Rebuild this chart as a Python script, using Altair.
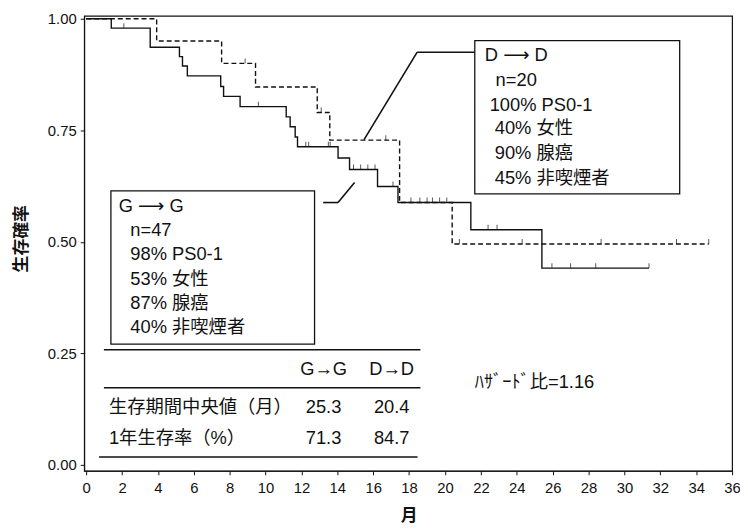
import altair as alt
import pandas as pd

# ---- Kaplan-Meier curves ----
g_time = [0, 1.4, 3.57, 5.2, 5.37, 5.64, 7.5, 7.66, 8.58, 11.15, 11.37, 11.65, 11.78,
          14.04, 14.68, 16.24, 17.38, 21.44, 25.4, 31.37]
g_surv = [1.0, 0.979, 0.936, 0.915, 0.894, 0.872, 0.848, 0.826, 0.803, 0.780, 0.758, 0.735, 0.713,
          0.688, 0.662, 0.624, 0.588, 0.527, 0.441, 0.441]

d_time = [0, 3.93, 7.55, 9.44, 12.88, 13.58, 17.47, 20.4, 34.7]
d_surv = [1.0, 0.95, 0.90, 0.847, 0.79, 0.728, 0.588, 0.495, 0.495]

# censored observations
g_cens_time = [2.1, 9.6, 12.24, 12.4, 13.5, 13.6, 14.9, 15.3, 15.7, 16.1, 17.1, 22.4, 22.9,
               25.96, 27.0, 28.4, 31.37]
g_cens_surv = [0.979, 0.803, 0.713, 0.713, 0.713, 0.713, 0.662, 0.662, 0.662, 0.662, 0.624,
               0.527, 0.527, 0.441, 0.441, 0.441, 0.441]
d_cens_time = [8.86, 13.1, 16.7, 18.1, 18.6, 19.0, 19.3, 19.7, 20.1, 20.8, 24.3, 28.7, 32.9, 34.7]
d_cens_surv = [0.90, 0.79, 0.728, 0.588, 0.588, 0.588, 0.588, 0.588, 0.588, 0.495, 0.495,
               0.495, 0.495, 0.495]

x_ticks = list(range(0, 37, 2))
y_ticks = [0, 0.25, 0.5, 0.75, 1.0]

# ---- annotation text ----
dd_lines = ["D ⟶ D", "n=20", "100% PS0-1", "40% 女性", "90% 腺癌", "45% 非喫煙者"]
dd_x = [22.22, 22.82, 22.49, 22.77, 22.77, 22.77]
dd_y = [0.918, 0.8625, 0.807, 0.754, 0.698, 0.643]
gg_lines = ["G ⟶ G", "n=47", "98% PS0-1", "53% 女性", "87% 腺癌", "40% 非喫煙者"]
gg_x = [1.82, 2.46, 2.46, 2.46, 2.46, 2.46]
gg_y = [0.581, 0.5255, 0.472, 0.417, 0.3636, 0.308]

table_left = ["生存期間中央値（月）", "1年生存率（%）"]
table_left_y = [0.1286, 0.0599]
table_head = ["G→G", "D→D"]
table_g = ["25.3", "71.3"]
table_d = ["20.4", "84.7"]
hazard_text = "ﾊｻﾞｰﾄﾞ比=1.16"

FONT = "Liberation Sans, DejaVu Sans, Noto Sans CJK JP"

xs = alt.Scale(domain=[-0.11, 36], nice=False, zero=False)
ys = alt.Scale(domain=[-0.0133, 1.0067], nice=False, zero=False)

x_axis = alt.Axis(values=x_ticks, format="d", title="月", titleX=328, titleY=45,
                  titleBaseline="middle", labelOverlap=False, labelFlush=False,
                  tickCount=19, labelSeparation=0)
y_axis = alt.Axis(values=y_ticks, format=".2f", title="生存確率", titleX=-63, titleY=225,
                  titleBaseline="middle", titleAngle=-90, labelOverlap=False)


def X(field):
    return alt.X(field, type="quantitative", scale=xs, axis=x_axis)


def Y(field):
    return alt.Y(field, type="quantitative", scale=ys, axis=y_axis)


curves = pd.DataFrame(
    {"t": g_time + d_time, "s": g_surv + d_surv,
     "grp": ["G→G"] * len(g_time) + ["D→D"] * len(d_time)}
)
cens = pd.DataFrame(
    {"t": g_cens_time + d_cens_time, "s": g_cens_surv + d_cens_surv}
)

g_line = alt.Chart(curves).transform_filter(alt.datum.grp == "G→G").mark_line(
    interpolate="step-after", color="#111", strokeWidth=1.4
).encode(x=X("t"), y=Y("s"))

d_line = alt.Chart(curves).transform_filter(alt.datum.grp == "D→D").mark_line(
    interpolate="step-after", color="#111", strokeWidth=1.4, strokeDash=[5, 3]
).encode(x=X("t"), y=Y("s"))

ticks = alt.Chart(cens).mark_tick(
    orient="vertical", size=5, thickness=1, color="#111", yOffset=-2.5
).encode(x=X("t"), y=Y("s"))

# boxes
boxes = pd.DataFrame({"x": [21.66, 1.38], "x2": [33.08, 12.73],
                      "y": [0.951, 0.614], "y2": [0.6075, 0.2705]})
box_layer = alt.Chart(boxes).mark_rect(fill="white", stroke="#111", strokeWidth=1.3).encode(
    x=X("x"), x2="x2", y=Y("y"), y2="y2")

# callout & table rules
rules = pd.DataFrame({
    "x": [21.66, 18.45, 13.21, 14.04, 0.99, 0.99, 0.72],
    "x2": [18.45, 15.49, 14.04, 14.96, 18.63, 18.63, 18.47],
    "y": [0.925, 0.925, 0.588, 0.588, 0.258, 0.173, 0.0177],
    "y2": [0.925, 0.729, 0.588, 0.633, 0.258, 0.173, 0.0177],
})
rule_layer = alt.Chart(rules).mark_rule(color="#111", strokeWidth=1.6).encode(
    x=X("x"), x2="x2", y=Y("y"), y2="y2")

left_txt = pd.DataFrame({
    "x": dd_x + gg_x + [1.27, 1.27] + [21.66],
    "y": dd_y + gg_y + table_left_y + [0.186],
    "text": dd_lines + gg_lines + table_left + [hazard_text],
})
left_layer = alt.Chart(left_txt).mark_text(
    align="left", baseline="middle", font=FONT, fontSize=18.5, color="#111"
).encode(x=X("x"), y=Y("y"), text="text:N")

center_txt = pd.DataFrame({
    "x": [13.23, 17.03, 13.23, 17.03, 13.23, 17.03],
    "y": [0.215, 0.215, 0.1286, 0.1286, 0.0599, 0.0599],
    "text": [table_head[0], table_head[1], table_g[0], table_d[0], table_g[1], table_d[1]],
})
center_layer = alt.Chart(center_txt).mark_text(
    align="center", baseline="middle", font=FONT, fontSize=18.5, color="#111"
).encode(x=X("x"), y=Y("y"), text="text:N")

chart = alt.layer(
    g_line, d_line, ticks, box_layer, rule_layer, left_layer, center_layer
).resolve_axis(x="shared", y="shared").properties(
    width=655, height=460,
    autosize=alt.AutoSizeParams(type="none"),
    padding={"left": 77, "top": 5, "right": 8, "bottom": 56},
).configure_view(
    stroke="#111", strokeWidth=1.2
).configure_axis(
    grid=False, domainColor="#111", tickColor="#111", tickSize=4,
    labelFont="Liberation Sans", labelFontSize=15, labelColor="#111",
    titleFont="Noto Sans CJK JP", titleFontSize=17, titleFontWeight="bold", titleColor="#111",
    labelOverlap=False,
).configure_axisX(labelPadding=6).configure_axisY(labelPadding=4)

chart.save("out.html", embed_options={"renderer": "svg", "actions": False})
